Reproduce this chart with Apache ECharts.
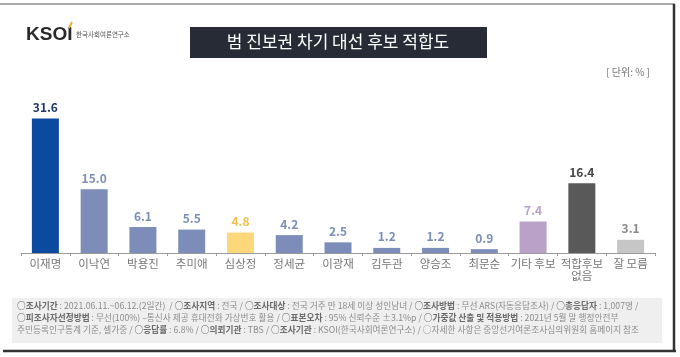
<!DOCTYPE html>
<html><head><meta charset="utf-8">
<script src="https://cdn.jsdelivr.net/npm/echarts@6/dist/echarts.min.js"></script>
<style>html,body{margin:0;padding:0;background:#fff}#c{width:680px;height:357px}</style>
</head><body><div id="c"></div>
<script>
const categories = ['이재명','이낙연','박용진','추미애','심상정','정세균','이광재','김두관','양승조','최문순','기타 후보','적합후보\n없음','잘 모름'];
const values = [31.6, 15.0, 6.1, 5.5, 4.8, 4.2, 2.5, 1.2, 1.2, 0.9, 7.4, 16.4, 3.1];
const barColors = ['#0b4a9e','#7b8db8','#7b8db8','#7b8db8','#fdd87a','#7b8db8','#7b8db8','#7b8db8','#7b8db8','#7b8db8','#b9a1c8','#595959','#c6c6c6'];
const labelColors = ['#1f3864','#7b8db8','#7b8db8','#7b8db8','#f2c14e','#7b8db8','#7b8db8','#7b8db8','#7b8db8','#7b8db8','#b9a1c8','#444','#8a8a8a'];
const titleText = '범 진보권 차기 대선 후보 적합도';
const unitText = '[ 단위: % ]';
const notes = [
  [['b','○조사기간'],['n',' : 2021.06.11.~06.12.(2일간)  / '],['b','○조사지역'],['n',' : 전국 / '],['b','○조사대상'],['n',' : 전국 거주 만 18세 이상 성인남녀 / '],['b','○조사방법'],['n',' : 무선 ARS(자동응답조사) / '],['b','○총응답자'],['n',' : 1,007명 /']],
  [['b','○피조사자선정방법'],['n',' : 무선(100%) –통신사 제공 휴대전화 가상번호 활용 / '],['b','○표본오차'],['n',' : 95% 신뢰수준 ±3.1%p / '],['b','○가중값 산출 및 적용방법'],['n',' : 2021년 5월 말 행정안전부']],
  [['n','주민등록인구통계 기준, 셀가중 / '],['b','○응답률'],['n',' : 6.8% / '],['b','○의뢰기관'],['n',' : TBS / '],['b','○조사기관'],['n',' : KSOI(한국사회여론연구소) / ○자세한 사항은 중앙선거여론조사심의위원회 홈페이지 참조']]
];
const FONT = '"Noto Sans CJK KR","Noto Sans",sans-serif';
const chart = echarts.init(document.getElementById('c'));
const noteEls = notes.map((line, i) => ({
  type: 'text', left: 17, top: 301 + i * 12,
  style: {
    text: line.map(p => '{' + p[0] + '|' + p[1] + '}').join(''),
    rich: {
      b: {fontSize: 8.7, fontWeight: 'bold', fill: '#6a6a6a', fontFamily: FONT},
      n: {fontSize: 8.7, fill: '#8c8c8c', fontFamily: FONT}
    }
  }
}));
chart.setOption({
  animation: false,
  backgroundColor: '#fff',
  grid: {left: 21, right: 25, top: 104, bottom: 104},
  xAxis: {
    type: 'category', data: categories,
    axisLine: {lineStyle: {color: '#9a9a9a', width: 1}},
    axisTick: {show: true, length: 3, lineStyle: {color: '#9a9a9a'}},
    axisLabel: {color: '#777', fontSize: 11.5, fontFamily: FONT, margin: 5, lineHeight: 12, interval: 0}
  },
  yAxis: {type: 'value', min: 0, max: 35, show: false, splitLine: {show: false}},
  series: [{
    type: 'bar', barWidth: 27,
    data: values.map((v, i) => ({
      value: v,
      itemStyle: {color: barColors[i]},
      label: {color: labelColors[i]}
    })),
    label: {show: true, position: 'top', distance: 5, fontSize: 12, fontWeight: 'bold', fontFamily: FONT,
      formatter: p => p.value.toFixed(1)}
  }],
  graphic: [
    {type: 'line', shape: {x1: 0, y1: 4, x2: 675, y2: 4}, style: {stroke: '#8c8c8c', lineWidth: 1.5}},
    {type: 'line', shape: {x1: 674, y1: 4, x2: 674, y2: 352}, style: {stroke: '#333', lineWidth: 2.5}},
    {type: 'line', shape: {x1: 3, y1: 351, x2: 676, y2: 351}, style: {stroke: '#333', lineWidth: 2.5}},
    {type: 'rect', shape: {x: 190, y: 27, width: 297, height: 31}, style: {fill: '#262b35'}},
    {type: 'text', x: 338, y: 42, style: {text: titleText, fill: '#fff', fontSize: 17, fontFamily: FONT, align: 'center', verticalAlign: 'middle'}},
    {type: 'text', x: 26, y: 35, style: {text: 'KSOI', fill: '#2a2a2a', fontSize: 19, fontWeight: 'bold', fontFamily: '"Liberation Sans",Arial,sans-serif', verticalAlign: 'middle'}},
    {type: 'line', shape: {x1: 69, y1: 28, x2: 72, y2: 22}, style: {stroke: '#e8b13a', lineWidth: 2}},
    {type: 'text', x: 76, y: 35, style: {text: '한국사회여론연구소', fill: '#555', fontSize: 6.5, fontFamily: FONT, verticalAlign: 'middle'}},
    {type: 'text', x: 650, y: 72, style: {text: unitText, fill: '#777', fontSize: 10, fontFamily: FONT, align: 'right', verticalAlign: 'middle'}},
    {type: 'rect', shape: {x: 12, y: 298, width: 650, height: 45}, style: {fill: '#efefef'}}
  ].concat(noteEls)
});
</script></body></html>
